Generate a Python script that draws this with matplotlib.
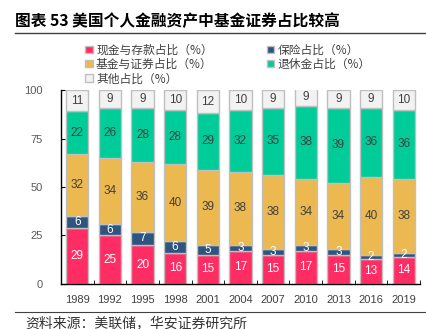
import matplotlib
matplotlib.use("Agg")
import matplotlib.pyplot as plt
import numpy as np

plt.rcParams['font.family'] = ['Liberation Sans', 'Noto Sans CJK SC', 'DejaVu Sans']

years = ['1989', '1992', '1995', '1998', '2001', '2004', '2007', '2010', '2013', '2016', '2019']
cash = [29, 25, 20, 16, 15, 17, 15, 17, 15, 13, 14]
insurance = [6, 6, 7, 6, 5, 3, 3, 3, 3, 2, 2]
funds = [32, 34, 36, 40, 39, 38, 38, 34, 34, 40, 38]
pension = [22, 26, 28, 28, 29, 32, 35, 38, 39, 36, 36]
other = [11, 9, 9, 10, 12, 10, 9, 9, 9, 9, 10]

series = [
    ('现金与存款占比（%）', cash, '#FF2D64', 'white'),
    ('保险占比（%）', insurance, '#2E5480', 'white'),
    ('基金与证券占比（%）', funds, '#EBB950', '#404040'),
    ('退休金占比（%）', pension, '#00CC99', '#404040'),
    ('其他占比（%）', other, '#F2F2F2', '#404040'),
]

fig = plt.figure(figsize=(4.26, 3.29), dpi=100)
ax = fig.add_axes([0.143, 0.137, 0.843, 0.589])

x = np.arange(len(years))
bottom = np.zeros(len(years))
handles = []
for name, vals, color, tcol in series:
    vals = np.array(vals, dtype=float)
    bars = ax.bar(x, vals, bottom=bottom, width=0.68, color=color,
                  edgecolor='#BFBFBF', linewidth=1.0, label=name)
    for xi, b, v in zip(x, bottom, vals):
        ax.text(xi, b + v / 2, f'{int(v)}', ha='center', va='center',
                color=tcol, fontsize=8.5)
    bottom += vals
    handles.append(bars)

ax.set_xlim(-0.5, len(years) - 0.5)
ax.set_ylim(0, 100)
ax.set_yticks([0, 25, 50, 75, 100])
ax.set_xticks(x)
ax.set_xticklabels(years)
ax.set_xticks(np.arange(-0.5, len(years), 1.0), minor=True)
ax.tick_params(axis='x', which='major', length=0, labelsize=8, colors='#404040', pad=8)
ax.tick_params(axis='x', which='minor', direction='in', length=3, color='black')
ax.tick_params(axis='y', direction='in', length=3, labelsize=8, labelcolor='#595959', pad=13)
for s in ['top', 'right']:
    ax.spines[s].set_visible(False)
for s in ['left', 'bottom']:
    ax.spines[s].set_color('black')
    ax.spines[s].set_linewidth(1.0)

# column-first fill: col1 = cash, funds, other ; col2 = insurance, pension
order = [0, 2, 4, 1, 3]
leg = fig.legend(handles=[handles[i] for i in order], labels=[series[i][0] for i in order],
                 ncol=2, loc='upper left', bbox_to_anchor=(0.195, 0.875),
                 frameon=False, handlelength=0.6, handleheight=0.6,
                 handletextpad=0.3, columnspacing=4.6, labelspacing=0.12,
                 borderaxespad=0.0, borderpad=0.2,
                 prop={'family': ['Noto Sans CJK SC'], 'size': 8.5})
for t in leg.get_texts():
    t.set_color('#404040')

fig.text(0.035, 0.936, '图表 53 美国个人金融资产中基金证券占比较高', fontsize=11.3,
         fontweight='bold', family=['Noto Sans CJK SC'], va='center', ha='left', color='black')
fig.add_artist(plt.Line2D([0.035, 1.0], [0.9, 0.9], color='#404040', linewidth=1.0))
fig.add_artist(plt.Line2D([0.035, 1.0], [0.052, 0.052], color='#404040', linewidth=0.8))
fig.text(0.059, 0.018, '资料来源：美联储，华安证券研究所', fontsize=10,
         family=['Noto Sans CJK SC'], va='center', ha='left', color='#333333')

fig.savefig('out.png', dpi=100)
